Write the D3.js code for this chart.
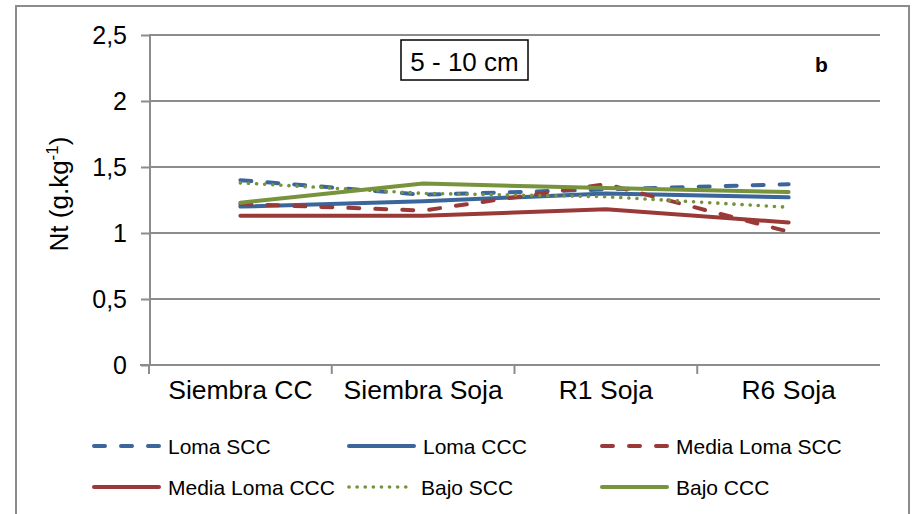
<!DOCTYPE html>
<html>
<head>
<meta charset="utf-8">
<script src="https://cdn.jsdelivr.net/npm/d3@7"></script>
<style>
  body { margin: 0; background: #fff; }
  text { font-family: "Liberation Sans", Arial, sans-serif; fill: #000; }
</style>
</head>
<body>
<svg id="chart" width="914" height="514"></svg>
<script>
// categories along the x axis
const stages = ['Siembra CC', 'Siembra Soja', 'R1 Soja', 'R6 Soja'];
const yTicks = [0, 0.5, 1, 1.5, 2, 2.5];

// Nt values (g/kg)
const lomaSCC = [1.40, 1.29, 1.33, 1.37];
const lomaCCC = [1.20, 1.24, 1.30, 1.27];
const mediaSCC = [1.22, 1.17, 1.37, 1.01];
const mediaCCC = [1.13, 1.13, 1.18, 1.08];
const bajoSCC = [1.38, 1.30, 1.275, 1.195];
const bajoCCC = [1.23, 1.375, 1.34, 1.31];

const BLUE = '#3a669c', RED = '#9a3a38', GREEN = '#77933c';

const series = [
  { name: 'Loma SCC', values: lomaSCC, color: BLUE, dash: '11,16' },
  { name: 'Loma CCC', values: lomaCCC, color: BLUE, dash: null },
  { name: 'Media Loma SCC', values: mediaSCC, color: RED, dash: '11,16' },
  { name: 'Media Loma CCC', values: mediaCCC, color: RED, dash: null },
  { name: 'Bajo SCC', values: bajoSCC, color: GREEN, dash: '0.1,8', width: 3.6 },
  { name: 'Bajo CCC', values: bajoCCC, color: GREEN, dash: null }
];

const svg = d3.select('#chart');
const M = { top: 35, left: 149, right: 880, bottom: 365 };

// outer frame
svg.append('rect')
  .attr('x', 16).attr('y', 6)
  .attr('width', 893).attr('height', 520)
  .attr('fill', 'none').attr('stroke', '#8c8c8c').attr('stroke-width', 2);

const x = d3.scaleBand().domain(stages).range([M.left, M.right]);
const y = d3.scaleLinear().domain([0, 2.5]).range([M.bottom, M.top]);

// grid lines
svg.append('g')
  .selectAll('line')
  .data(yTicks.slice(1))
  .join('line')
  .attr('x1', M.left).attr('x2', M.right)
  .attr('y1', d => y(d)).attr('y2', d => y(d))
  .attr('stroke', '#8c8c8c').attr('stroke-width', 2);

// y axis
const yAxis = svg.append('g')
  .attr('transform', `translate(${M.left + 1},0)`)
  .call(d3.axisLeft(y).tickValues(yTicks).tickSize(9).tickPadding(14)
    .tickFormat(d => String(d).replace('.', ',')));
yAxis.select('.domain').attr('stroke', '#8c8c8c').attr('stroke-width', 2)
  .attr('d', `M0,${M.top}V${M.bottom}`);
yAxis.selectAll('.tick line').attr('stroke', '#8c8c8c').attr('stroke-width', 2);
yAxis.selectAll('.tick text')
  .style('font-family', '"Liberation Sans", Arial, sans-serif')
  .style('font-size', '25px').attr('fill', '#000');

// x axis
const xAxis = svg.append('g')
  .attr('transform', `translate(0,${M.bottom})`)
  .call(d3.axisBottom(x).tickSize(0).tickPadding(15));
xAxis.select('.domain').attr('stroke', '#8c8c8c').attr('stroke-width', 2)
  .attr('d', `M${M.left - 9},0H${M.right}`);
xAxis.selectAll('.tick text')
  .style('font-family', '"Liberation Sans", Arial, sans-serif')
  .style('font-size', '26.5px').attr('fill', '#000');
svg.append('g')
  .selectAll('line')
  .data(stages)
  .join('line')
  .attr('x1', d => x(d)).attr('x2', d => x(d))
  .attr('y1', M.bottom).attr('y2', M.bottom + 9)
  .attr('stroke', '#8c8c8c').attr('stroke-width', 2);

// y axis title
const yTitle = svg.append('text')
  .attr('transform', 'translate(68,194) rotate(-90)')
  .attr('text-anchor', 'middle')
  .style('font-size', '26px');
yTitle.append('tspan').text('Nt (g.kg');
yTitle.append('tspan').attr('dy', -10).style('font-size', '17px').text('-1');
yTitle.append('tspan').attr('dy', 10).text(')');

// series lines
const line = d3.line()
  .x((d, i) => x(stages[i]) + x.bandwidth() / 2)
  .y(d => y(d));

svg.append('g')
  .selectAll('path')
  .data(series)
  .join('path')
  .attr('d', d => line(d.values))
  .attr('fill', 'none')
  .attr('stroke', d => d.color)
  .attr('stroke-width', d => d.width || 4)
  .attr('stroke-linecap', 'round')
  .attr('stroke-linejoin', 'round')
  .attr('stroke-dasharray', d => d.dash);

// depth label box
svg.append('rect')
  .attr('x', 401).attr('y', 40)
  .attr('width', 127).attr('height', 40)
  .attr('fill', '#fff').attr('stroke', '#000').attr('stroke-width', 1.5);
svg.append('text')
  .attr('x', 464.5).attr('y', 71)
  .attr('text-anchor', 'middle')
  .style('font-size', '26px')
  .text('5 - 10 cm');

svg.append('text')
  .attr('x', 815).attr('y', 72)
  .style('font-size', '21px').style('font-weight', 'bold')
  .text('b');

// legend
const legX = [92, 347, 600];
const legY = [446, 487];
const leg = svg.append('g')
  .selectAll('g')
  .data(series)
  .join('g')
  .attr('transform', (d, i) => `translate(${legX[i % 3]},${legY[Math.floor(i / 3)]})`);
leg.append('line')
  .attr('x1', 2).attr('x2', d => d.name === 'Bajo SCC' ? 64 : 67)
  .attr('stroke', d => d.color)
  .attr('stroke-width', d => d.width || 4)
  .attr('stroke-linecap', 'round')
  .attr('stroke-dasharray', d => d.dash);
leg.append('text')
  .attr('x', d => d.name === 'Bajo SCC' ? 74 : 76)
  .attr('y', 8)
  .style('font-size', '21px')
  .text(d => d.name);
</script>
</body>
</html>
